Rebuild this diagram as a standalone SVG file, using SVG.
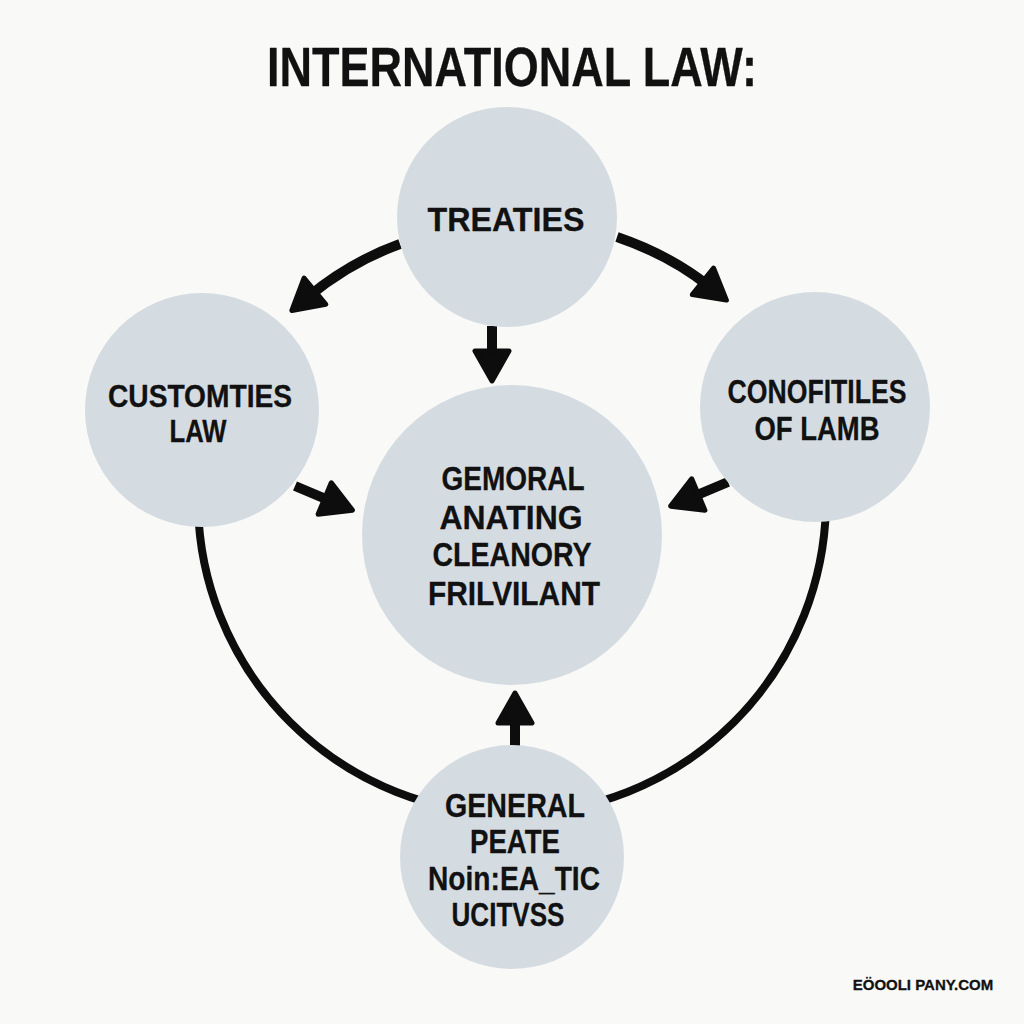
<svg xmlns="http://www.w3.org/2000/svg" width="1024" height="1024" viewBox="0 0 1024 1024">
<defs>
<style>
.node{fill:#d5dce1;}
.t{font-family:"Liberation Sans Narrow","Liberation Sans","DejaVu Sans",sans-serif;font-weight:bold;fill:#111;stroke:#111;stroke-width:0.3;stroke-linejoin:round;text-anchor:middle;}
.conn{fill:none;stroke:#0d0d0d;stroke-width:10;}
.big{fill:none;stroke:#0d0d0d;stroke-width:8;}
</style>
<marker id="ah" markerUnits="userSpaceOnUse" viewBox="0 0 40 40" markerWidth="40" markerHeight="40" refX="14" refY="20" orient="auto">
<path d="M5,3 L35,20 L5,37 Z" fill="#0d0d0d" stroke="#0d0d0d" stroke-width="5" stroke-linejoin="round"/>
</marker>
</defs>
<rect width="1024" height="1024" fill="#f9f9f7"/>
<text class="t" x="512" y="86" font-size="55" textLength="490" lengthAdjust="spacingAndGlyphs">INTERNATIONAL LAW:</text>
<g id="connectors">
<path class="big" d="M198,500 A314,314 0 0 0 826,500"/>
<path class="conn" d="M400,244 Q350,262 308,297" marker-end="url(#ah)"/>
<path class="conn" d="M617,237 Q670,255 710,287" marker-end="url(#ah)"/>
<path class="conn" d="M492,326 L492,360" marker-end="url(#ah)"/>
<path class="conn" d="M295,486 L333,502" marker-end="url(#ah)"/>
<path class="conn" d="M728,482 L690,498" marker-end="url(#ah)"/>
<path class="conn" d="M515,746 L515,714" marker-end="url(#ah)"/>
</g>
<g id="treaties">
<circle class="node" cx="507" cy="217" r="110"/>
<text class="t" x="506" y="231" font-size="34" textLength="157" lengthAdjust="spacingAndGlyphs">TREATIES</text>
</g>
<g id="customties">
<circle class="node" cx="202" cy="410" r="117"/>
<text class="t" x="200" y="407" font-size="31" textLength="184" lengthAdjust="spacingAndGlyphs">CUSTOMTIES</text>
<text class="t" x="198" y="442" font-size="31" textLength="57" lengthAdjust="spacingAndGlyphs">LAW</text>
</g>
<g id="conofitiles">
<circle class="node" cx="815" cy="407" r="115"/>
<text class="t" x="817" y="403" font-size="34" textLength="179" lengthAdjust="spacingAndGlyphs">CONOFITILES</text>
<text class="t" x="817" y="440" font-size="34" textLength="125" lengthAdjust="spacingAndGlyphs">OF LAMB</text>
</g>
<g id="center">
<circle class="node" cx="512" cy="535" r="150"/>
<text class="t" x="513" y="490" font-size="34" textLength="143" lengthAdjust="spacingAndGlyphs">GEMORAL</text>
<text class="t" x="511" y="529" font-size="34" textLength="143" lengthAdjust="spacingAndGlyphs">ANATING</text>
<text class="t" x="512" y="566" font-size="34" textLength="159" lengthAdjust="spacingAndGlyphs">CLEANORY</text>
<text class="t" x="514" y="605" font-size="34" textLength="172" lengthAdjust="spacingAndGlyphs">FRILVILANT</text>
</g>
<g id="bottom">
<circle class="node" cx="512" cy="857" r="112"/>
<text class="t" x="515" y="817" font-size="33" textLength="140" lengthAdjust="spacingAndGlyphs">GENERAL</text>
<text class="t" x="515" y="853" font-size="33" textLength="90" lengthAdjust="spacingAndGlyphs">PEATE</text>
<text class="t" x="514" y="890" font-size="33" textLength="172" lengthAdjust="spacingAndGlyphs">Noin:EA_TIC</text>
<text class="t" x="508" y="926" font-size="33" textLength="113" lengthAdjust="spacingAndGlyphs">UCITVSS</text>
</g>
<text class="t" x="923" y="990" font-size="15" stroke-width="0.2">EÖOOLI PANY.COM</text>
</svg>
